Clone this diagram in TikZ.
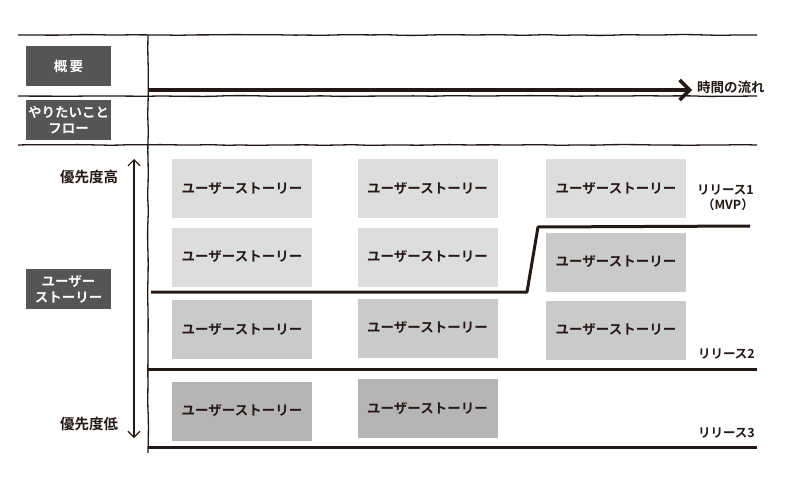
\documentclass[tikz,border=0pt]{standalone}
\usepackage{fontspec}
\setmainfont{Noto Sans CJK JP}[BoldFont={Noto Sans CJK JP Bold}]
\usetikzlibrary{arrows.meta,decorations.pathmorphing}
\definecolor{ink}{HTML}{231815}
\definecolor{darkbox}{HTML}{555555}
\definecolor{lightfill}{HTML}{DCDDDD}
\definecolor{midfill}{HTML}{C9CACA}
\definecolor{deepfill}{HTML}{B5B5B5}
\pgfmathsetseed{7}
\tikzset{
  wobble/.style={decorate, decoration={random steps, segment length=16pt, amplitude=0.45pt}, rounded corners=7pt},
  story/.style={minimum width=140pt, minimum height=59pt, inner sep=0pt,
    font=\fontsize{13.5}{16}\selectfont\bfseries, text=ink},
  headbox/.style={fill=darkbox, minimum width=85pt, minimum height=40pt,
    inner sep=0pt, text=white, align=center, font=\fontsize{13.5}{16}\selectfont\bfseries},
  thinrule/.style={draw=ink, line width=1.3pt, wobble},
  release/.style={draw=ink, line width=3pt, line join=round},
  lbl/.style={text=ink, font=\fontsize{13.5}{16}\selectfont\bfseries, inner sep=0pt},
  prio/.style={text=ink, font=\fontsize{14.5}{16}\selectfont\bfseries, inner sep=0pt}
}
\begin{document}
\begin{tikzpicture}[x=1pt,y=-1pt]
\useasboundingbox (0,0) rectangle (800,500);
% grid lines
\coordinate (h1a) at (18,35);  \coordinate (h1b) at (757,35);
\coordinate (h2a) at (18,96);  \coordinate (h2b) at (757,96);
\coordinate (h3a) at (18,145); \coordinate (h3b) at (757,145);
\coordinate (va) at (148,35);  \coordinate (vb) at (148,453);
\draw[thinrule] (h1a) -- (h1b);
\draw[thinrule] (h2a) -- (h2b);
\draw[thinrule] (h3a) -- (h3b);
\draw[thinrule] (va) -- (vb);
% head boxes
\node[headbox] (gaiyo) at (68.5,66) {概\,要};
\node[headbox] (flow) at (68.5,120) {やりたいこと\\フロー};
\node[headbox] (us) at (68.5,289) {ユーザー\\ストーリー};
% time arrow
\coordinate (t0) at (148,90);
\coordinate (t1) at (692,90);
\node[lbl, anchor=west] (time) at (697,87) {時間の流れ};
\draw[draw=ink, line width=4pt, -{Straight Barb[length=10pt,width=20pt,line width=3.5pt]}] (t0) -- (t1);
% priority arrow
\node[prio] (high) at (89,177) {優先度高};
\node[prio] (low) at (89,424) {優先度低};
\coordinate (ptop) at (134,159);
\coordinate (pbot) at (134,438);
\draw[draw=ink, line width=1.1pt, {Straight Barb[length=6pt,width=12pt]}-{Straight Barb[length=6pt,width=12pt]}] (ptop) -- (pbot);
% stories
\node[story, fill=lightfill] (s11) at (242,188.5) {ユーザーストーリー};
\node[story, fill=lightfill] (s12) at (427.5,188.5) {ユーザーストーリー};
\node[story, fill=lightfill] (s13) at (616,188.5) {ユーザーストーリー};
\node[story, fill=lightfill] (s21) at (242,257) {ユーザーストーリー};
\node[story, fill=lightfill] (s22) at (427.5,257) {ユーザーストーリー};
\node[story, fill=midfill] (s23) at (616,262) {ユーザーストーリー};
\node[story, fill=midfill] (s31) at (242,329.5) {ユーザーストーリー};
\node[story, fill=midfill] (s32) at (427.5,328) {ユーザーストーリー};
\node[story, fill=midfill] (s33) at (616,330) {ユーザーストーリー};
\node[story, fill=deepfill] (s41) at (242,411) {ユーザーストーリー};
\node[story, fill=deepfill] (s42) at (427.5,408.5) {ユーザーストーリー};
% release lines
\coordinate (r1a) at (151,292); \coordinate (r1b) at (527,292);
\coordinate (r1c) at (538,227); \coordinate (r1d) at (750,226);
\draw[release] (r1a) -- (r1b) -- (r1c) -- (r1d);
\coordinate (r2a) at (148,369); \coordinate (r2b) at (757,369);
\draw[release] (r2a) -- (r2b);
\coordinate (r3a) at (148,447); \coordinate (r3b) at (757,447);
\draw[release] (r3a) -- (r3b);
% release labels
\node[lbl, anchor=north east, align=right, font=\fontsize{12.5}{15}\selectfont\bfseries] (rel1) at (754,185) {リリース1\\（MVP）};
\node[lbl, anchor=east, font=\fontsize{12.5}{15}\selectfont\bfseries] (rel2) at (755,354) {リリース2};
\node[lbl, anchor=east, font=\fontsize{12.5}{15}\selectfont\bfseries] (rel3) at (755,433) {リリース3};
\end{tikzpicture}
\end{document}
